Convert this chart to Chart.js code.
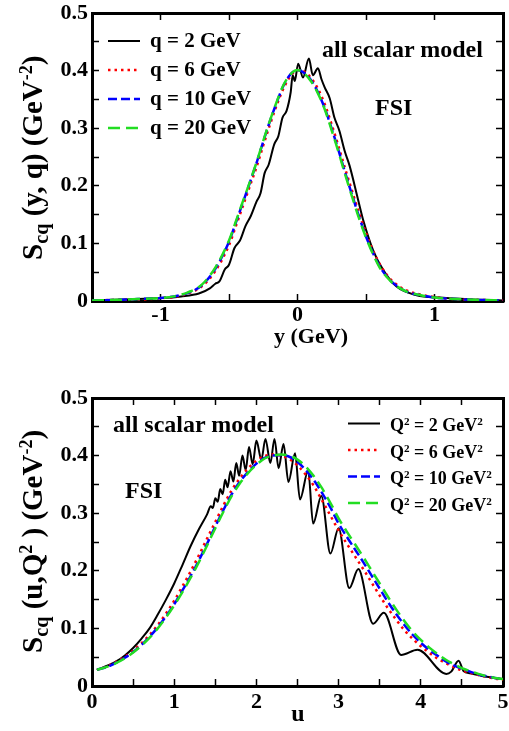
<!DOCTYPE html>
<html lang="en">
<head>
<meta charset="UTF-8">
<title>Scq scaling functions - all scalar model, FSI</title>
<script src="https://cdn.jsdelivr.net/npm/chart.js@4"></script>
<style>
  body { margin: 0; background: #fff; }
  #page {
    position: relative; width: 509px; height: 731px; overflow: hidden;
    font-family: "Liberation Serif", "Times New Roman", serif; font-weight: bold; color: #000;
  }
  .panel { position: absolute; left: 0; }
  .txt { position: absolute; white-space: nowrap; }
  .ytitle { position: absolute; white-space: nowrap; font-size: 29px; line-height: 29px; transform-origin: 0 0; transform: rotate(-90deg); }
  sup { font-size: 0.62em; vertical-align: 0.55em; line-height: 0; }
  sub { font-size: 0.7em; vertical-align: -0.32em; line-height: 0; }
  svg { position: absolute; left: 0; top: 0; }
</style>
</head>
<body>
<div id="page">
  <div class="panel" style="top:0"><canvas id="topChart" width="509" height="360"></canvas></div>
  <div class="panel" style="top:360px"><canvas id="bottomChart" width="509" height="371"></canvas></div>

  <!-- legend line samples -->
  <svg width="509" height="731">
    <line x1="108" y1="41" x2="140" y2="41" stroke="#000" stroke-width="2"/>
    <line x1="108" y1="70" x2="140" y2="70" stroke="#ff0000" stroke-width="2.5" stroke-dasharray="2.5 4"/>
    <line x1="108" y1="99" x2="140" y2="99" stroke="#0000ff" stroke-width="2.5" stroke-dasharray="9 4"/>
    <line x1="108" y1="128" x2="140" y2="128" stroke="#22dd22" stroke-width="2.5" stroke-dasharray="12 6"/>
    <line x1="348" y1="423.5" x2="380" y2="423.5" stroke="#000" stroke-width="2"/>
    <line x1="348" y1="450" x2="380" y2="450" stroke="#ff0000" stroke-width="2.5" stroke-dasharray="2.5 4"/>
    <line x1="348" y1="476.5" x2="380" y2="476.5" stroke="#0000ff" stroke-width="2.5" stroke-dasharray="9 4"/>
    <line x1="348" y1="503" x2="380" y2="503" stroke="#22dd22" stroke-width="2.5" stroke-dasharray="12 6"/>
  </svg>

  <!-- top panel texts -->
  <div class="txt" style="left:150px;top:29.5px;font-size:21px;line-height:21px">q = 2 GeV</div>
  <div class="txt" style="left:150px;top:58.5px;font-size:21px;line-height:21px">q = 6 GeV</div>
  <div class="txt" style="left:150px;top:87.5px;font-size:21px;line-height:21px">q = 10 GeV</div>
  <div class="txt" style="left:150px;top:116.5px;font-size:21px;line-height:21px">q = 20 GeV</div>
  <div class="txt" style="left:322px;top:36.5px;font-size:24px;line-height:24px">all scalar model</div>
  <div class="txt" style="left:375px;top:95px;font-size:24px;line-height:24px">FSI</div>
  <div class="txt" style="left:311px;top:325px;font-size:22px;line-height:22px;transform:translateX(-50%)">y (GeV)</div>
  <div class="ytitle" style="left:17.7px;top:260px">S<sub>cq</sub> (y, q) (GeV<sup>-2</sup>)</div>

  <!-- bottom panel texts -->
  <div class="txt" style="left:390px;top:416px;font-size:18px;line-height:18px">Q<sup>2</sup> = 2 GeV<sup>2</sup></div>
  <div class="txt" style="left:390px;top:442.5px;font-size:18px;line-height:18px">Q<sup>2</sup> = 6 GeV<sup>2</sup></div>
  <div class="txt" style="left:390px;top:469px;font-size:18px;line-height:18px">Q<sup>2</sup> = 10 GeV<sup>2</sup></div>
  <div class="txt" style="left:390px;top:495.5px;font-size:18px;line-height:18px">Q<sup>2</sup> = 20 GeV<sup>2</sup></div>
  <div class="txt" style="left:113px;top:412px;font-size:24px;line-height:24px">all scalar model</div>
  <div class="txt" style="left:125px;top:478px;font-size:24px;line-height:24px">FSI</div>
  <div class="txt" style="left:298px;top:701px;font-size:24px;line-height:24px;transform:translateX(-50%)">u</div>
  <div class="ytitle" style="left:17.7px;top:653px">S<sub>cq</sub> (u,Q<sup>2</sup> ) (GeV<sup>-2</sup>)</div>
</div>

<script>
// ---- top panel: S_cq(y, q) vs y (GeV) ----
const yGrid = [-1.5, -1.3, -1.1, -1.0, -0.9, -0.8, -0.7, -0.6, -0.5, -0.45, -0.4, -0.35, -0.3, -0.25, -0.2,
  -0.15, -0.1, -0.05, 0, 0.05, 0.1, 0.15, 0.2, 0.25, 0.3, 0.35, 0.4, 0.45, 0.5, 0.55, 0.6, 0.65, 0.7,
  0.8, 0.9, 1.0, 1.1, 1.3, 1.5];
const topQ6 = [0.001, 0.002, 0.003, 0.005, 0.007, 0.013, 0.025, 0.052, 0.097, 0.130, 0.164, 0.198, 0.232, 0.270, 0.307,
  0.341, 0.370, 0.391, 0.401, 0.398, 0.387, 0.368, 0.341, 0.306, 0.268, 0.228, 0.190, 0.152, 0.118, 0.088, 0.064, 0.046, 0.033,
  0.018, 0.011, 0.007, 0.004, 0.002, 0.001];
const topQ10 = [0.001, 0.002, 0.004, 0.005, 0.008, 0.014, 0.027, 0.056, 0.103, 0.136, 0.170, 0.204, 0.239, 0.277, 0.313,
  0.346, 0.375, 0.394, 0.401, 0.396, 0.383, 0.362, 0.334, 0.299, 0.261, 0.221, 0.183, 0.146, 0.112, 0.084, 0.060, 0.043, 0.031,
  0.016, 0.010, 0.006, 0.004, 0.002, 0.001];
const topQ20 = [0.001, 0.002, 0.004, 0.005, 0.008, 0.015, 0.028, 0.058, 0.105, 0.138, 0.172, 0.205, 0.240, 0.278, 0.314,
  0.347, 0.376, 0.394, 0.401, 0.395, 0.381, 0.360, 0.332, 0.296, 0.258, 0.218, 0.180, 0.143, 0.110, 0.082, 0.058, 0.042, 0.030,
  0.016, 0.010, 0.006, 0.004, 0.002, 0.001];
// q = 2 GeV has its own grid, it wiggles
const yQ2 = [-1.5, -1.2, -1.0, -0.85, -0.72, -0.64, -0.60, -0.57, -0.53, -0.50, -0.46, -0.42, -0.38, -0.34, -0.30,
  -0.27, -0.24, -0.21, -0.17, -0.14, -0.11, -0.08, -0.05, -0.035, -0.02, 0.005, 0.04, 0.083, 0.112, 0.149, 0.175,
  0.20, 0.235, 0.27, 0.305, 0.345, 0.38, 0.44, 0.48, 0.552, 0.625, 0.723, 0.87, 1.04, 1.25, 1.5];
const topQ2 = [0.001, 0.003, 0.005, 0.008, 0.013, 0.022, 0.030, 0.034, 0.055, 0.063, 0.092, 0.105, 0.130, 0.148, 0.172,
  0.187, 0.222, 0.237, 0.272, 0.286, 0.318, 0.330, 0.362, 0.392, 0.382, 0.412, 0.388, 0.421, 0.392, 0.404, 0.385,
  0.370, 0.352, 0.318, 0.296, 0.260, 0.235, 0.178, 0.140, 0.088, 0.054, 0.025, 0.010, 0.006, 0.003, 0.001];

// ---- bottom panel: S_cq(u, Q^2) vs u ----
const uGrid = [0.06, 0.2, 0.4, 0.6, 0.8, 1.0, 1.1, 1.2, 1.3, 1.4, 1.5, 1.6, 1.7, 1.8, 1.9, 2.0, 2.1, 2.2, 2.3, 2.4,
  2.5, 2.6, 2.7, 2.8, 2.9, 3.0, 3.1, 3.2, 3.3, 3.4, 3.5, 3.6, 3.7, 3.8, 3.9, 4.0, 4.1, 4.2, 4.3, 4.4, 4.5, 4.6,
  4.7, 4.8, 4.9, 5.0];
const botQ6 = [0.028, 0.035, 0.051, 0.074, 0.106, 0.148, 0.173, 0.199, 0.227, 0.256, 0.285, 0.314, 0.340, 0.361, 0.378,
  0.391, 0.399, 0.402, 0.400, 0.394, 0.383, 0.367, 0.347, 0.322, 0.296, 0.270, 0.247, 0.225, 0.203, 0.180, 0.157,
  0.135, 0.115, 0.097, 0.082, 0.069, 0.058, 0.048, 0.040, 0.033, 0.027, 0.023, 0.019, 0.016, 0.013, 0.011];
const botQ10 = [0.028, 0.034, 0.049, 0.071, 0.102, 0.142, 0.166, 0.191, 0.218, 0.247, 0.277, 0.306, 0.333, 0.355, 0.372,
  0.386, 0.396, 0.400, 0.401, 0.398, 0.389, 0.375, 0.357, 0.335, 0.310, 0.282, 0.259, 0.237, 0.215, 0.192, 0.169,
  0.146, 0.125, 0.106, 0.089, 0.075, 0.063, 0.053, 0.043, 0.036, 0.030, 0.025, 0.020, 0.017, 0.014, 0.012];
const botQ20 = [0.028, 0.034, 0.048, 0.070, 0.100, 0.140, 0.163, 0.188, 0.215, 0.244, 0.274, 0.303, 0.330, 0.352, 0.370,
  0.384, 0.395, 0.400, 0.402, 0.400, 0.393, 0.381, 0.364, 0.343, 0.318, 0.291, 0.268, 0.246, 0.224, 0.201, 0.178,
  0.155, 0.133, 0.113, 0.095, 0.080, 0.067, 0.056, 0.046, 0.038, 0.031, 0.026, 0.021, 0.017, 0.014, 0.012];
const uQ2 = [0.06, 0.2, 0.3, 0.4, 0.5, 0.6, 0.7, 0.8, 0.9, 1.0, 1.1, 1.2, 1.3, 1.4, 1.445, 1.47, 1.50, 1.53, 1.56,
  1.59, 1.62, 1.65, 1.685, 1.72, 1.755, 1.79, 1.83, 1.87, 1.91, 1.955, 2.00, 2.06,
  2.11, 2.17, 2.22, 2.27, 2.33, 2.39, 2.47, 2.53, 2.63, 2.69, 2.79, 2.90, 3.00, 3.13, 3.24, 3.42, 3.55, 3.76,
  3.96, 4.31, 4.37, 4.46, 4.52, 4.6, 4.7, 4.8, 4.9, 5.0];
const botQ2 = [0.028, 0.036, 0.043, 0.053, 0.066, 0.082, 0.100, 0.124, 0.150, 0.178, 0.210, 0.243, 0.272, 0.298, 0.312,
  0.309, 0.326, 0.320, 0.342, 0.333, 0.358, 0.345, 0.373, 0.355, 0.387, 0.365, 0.400, 0.375, 0.415, 0.385, 0.426,
  0.393, 0.429, 0.387, 0.429, 0.378, 0.420, 0.354, 0.404, 0.324, 0.374, 0.282, 0.330, 0.230, 0.274, 0.170, 0.203,
  0.108, 0.127, 0.054, 0.063, 0.021, 0.025, 0.044, 0.026, 0.022, 0.019, 0.016, 0.014, 0.012];

const yTicksMax = 0.5;

function pts(xs, ys) {
  return xs.map((x, i) => ({ x: x, y: ys[i] }));
}

// line styles: q/Q^2 = 2, 6, 10, 20
function series(xsList, ysList) {
  const styles = [
    { borderColor: '#000000', borderWidth: 2, borderDash: [], order: 3 },
    { borderColor: '#ff0000', borderWidth: 2.5, borderDash: [2.5, 4], order: 2 },
    { borderColor: '#0000ff', borderWidth: 2.5, borderDash: [9, 4], order: 1 },
    { borderColor: '#22dd22', borderWidth: 2.5, borderDash: [12, 6], order: 0 }
  ];
  return styles.map((s, i) => Object.assign({
    data: pts(xsList[i], ysList[i]),
    pointRadius: 0,
    fill: false,
    cubicInterpolationMode: 'monotone'
  }, s));
}

const tickFont = { family: 'Liberation Serif', size: 22, weight: 'bold' };

// fixed box sizes so the frames land where the original ones are
function fixBox(w, h) {
  return s => {
    if (w !== null) s.width = w;
    if (h !== null) s.height = h;
    s.paddingLeft = 0; s.paddingRight = 0; s.paddingTop = 0; s.paddingBottom = 0;
  };
}

function axes(xMin, xMax, xLabelPad, xAxisHeight) {
  const grid = { drawOnChartArea: false, drawTicks: true, tickLength: -7, color: '#000', tickWidth: 1.5 };
  const border = { display: true, color: '#000', width: 3 };
  const xLabel = v => Math.abs(v - Math.round(v)) < 1e-6 ? String(Math.round(v)) : '';
  const yLabel = v => {
    const t = Math.round(v * 100) / 100;
    if (Math.abs(t * 10 - Math.round(t * 10)) > 1e-6) return '';
    return t === 0 ? '0' : t.toFixed(1);
  };
  return {
    x: {
      type: 'linear', position: 'bottom', min: xMin, max: xMax,
      ticks: { stepSize: 0.5, autoSkip: false, maxRotation: 0, font: tickFont, color: '#000', padding: xLabelPad, callback: xLabel },
      grid: grid, border: border,
      afterFit: fixBox(null, xAxisHeight)
    },
    x2: {
      type: 'linear', position: 'top', min: xMin, max: xMax,
      ticks: { stepSize: 0.5, display: false },
      grid: grid, border: border,
      afterFit: fixBox(null, 0)
    },
    y: {
      type: 'linear', position: 'left', min: 0, max: yTicksMax,
      ticks: { stepSize: 0.05, autoSkip: false, font: tickFont, color: '#000', padding: 11, callback: yLabel },
      grid: grid, border: border,
      afterFit: fixBox(92, null)
    },
    y2: {
      type: 'linear', position: 'right', min: 0, max: yTicksMax,
      ticks: { stepSize: 0.05, display: false },
      grid: grid, border: border,
      afterFit: fixBox(0, null)
    }
  };
}

function makeChart(id, datasets, scales, padTop) {
  return new Chart(document.getElementById(id), {
    type: 'line',
    data: { datasets: datasets },
    options: {
      responsive: false,
      animation: false,
      events: [],
      layout: { autoPadding: false, padding: { top: padTop, right: 6, left: 0, bottom: 0 } },
      plugins: { legend: { display: false }, tooltip: { enabled: false } },
      scales: scales
    }
  });
}

makeChart('topChart',
  series([yQ2, yGrid, yGrid, yGrid], [topQ2, topQ6, topQ10, topQ20]),
  axes(-1.5, 1.5, 8, 59), 13);

makeChart('bottomChart',
  series([uQ2, uGrid, uGrid, uGrid], [botQ2, botQ6, botQ10, botQ20]),
  axes(0, 5, 10, 45), 38);
</script>
</body>
</html>
